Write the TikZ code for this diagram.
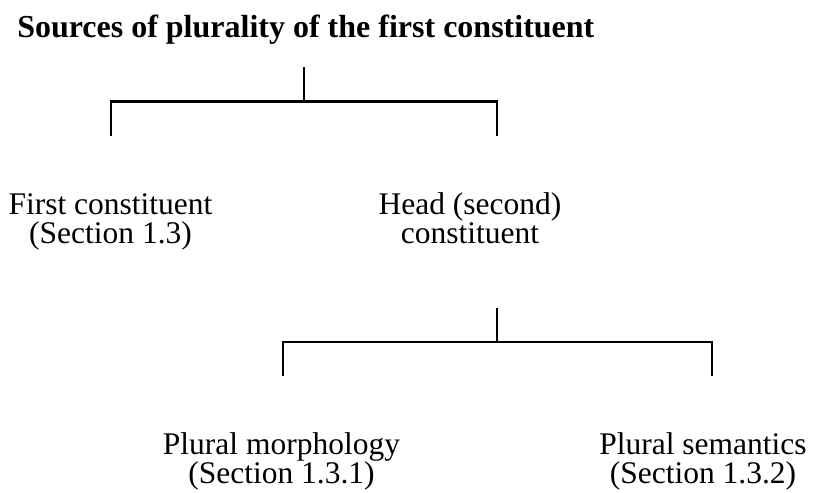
\documentclass[tikz,border=0pt]{standalone}
\usepackage{fontspec}
\setmainfont{Liberation Serif}
\begin{document}
\begin{tikzpicture}[x=0.5pt,y=-0.5pt,line width=1.25pt,line join=miter,
  txt/.style={font={\fontsize{15.75}{14.3}\selectfont\lineskiplimit=-20pt\relax},align=center,inner sep=0pt,anchor=base},
  ttl/.style={font={\fontsize{16}{19}\selectfont\bfseries},inner sep=0pt,anchor=base west}]
\useasboundingbox (0,0) rectangle (820,493);
\node[ttl] (title) at (16,37) {Sources of plurality of the first constituent};
\node[txt] (first) at (110.5,243) {First constituent\\(Section 1.3)};
\node[txt] (head) at (470,243) {Head (second)\\constituent};
\node[txt] (morph) at (281.5,483) {Plural morphology\\(Section 1.3.1)};
\node[txt] (sem) at (703,483) {Plural semantics\\(Section 1.3.2)};
% first tree
\coordinate (ta) at (304,67);
\coordinate (tb) at (304,101.5);
\coordinate (tl) at (111,101.5);
\coordinate (tle) at (111,135.5);
\coordinate (tr) at (497,101.5);
\coordinate (tre) at (497,135.5);
\draw (ta) -- (tb);
\draw (tle) -- (tl) -- (tr) -- (tre);
% second tree
\coordinate (sa) at (497,308);
\coordinate (sb) at (497,342);
\coordinate (sl) at (283,342);
\coordinate (sle) at (283,376);
\coordinate (sr) at (712,342);
\coordinate (sre) at (712,376);
\draw (sa) -- (sb);
\draw (sle) -- (sl) -- (sr) -- (sre);
\end{tikzpicture}
\end{document}
